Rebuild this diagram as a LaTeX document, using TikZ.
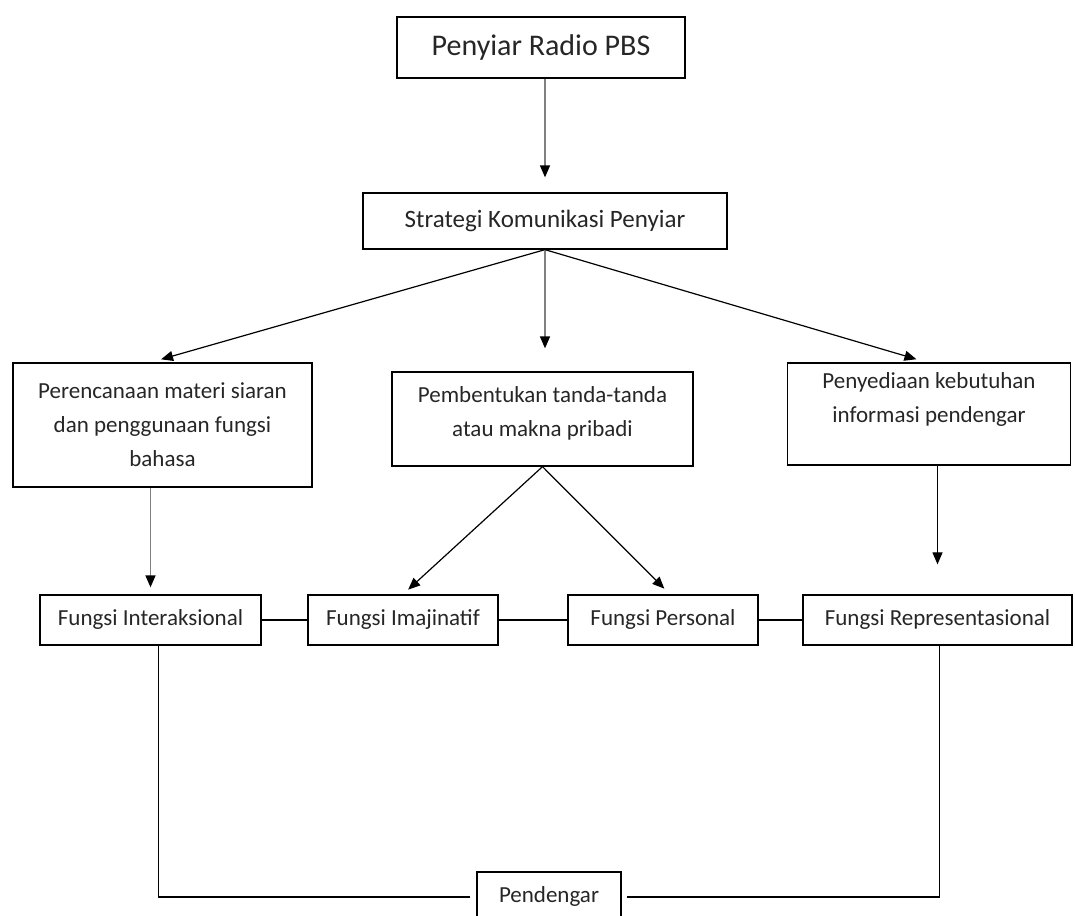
\documentclass[tikz,border=0pt]{standalone}
\usepackage{fontspec}
\setmainfont{Carlito}
\usetikzlibrary{arrows.meta}

\begin{document}
\begin{tikzpicture}[x=1pt, y=-1pt,
	box/.style={draw, line width=1.3pt, inner sep=0pt, align=center, text=black!85, font=\fontsize{23}{34}\selectfont},
	fungsi/.style={box, minimum height=50pt, text height=16pt, text depth=5pt},
	arr/.style={line width=1.2pt, -{Triangle[length=12pt,width=10pt,color=black]}},
	greyarr/.style={arr, line width=1.5pt, draw=black!50},
	link/.style={line width=1.2pt}]
		\useasboundingbox (0,0) rectangle (1075,915);
		\node [box, minimum width=288pt, minimum height=61pt, font=\fontsize{30}{36}\selectfont] at (541,47.5) (radio) {Penyiar Radio PBS};
		\node [box, minimum width=364pt, minimum height=56pt, font=\fontsize{25}{30}\selectfont] at (545,221) (strategi) {Strategi Komunikasi Penyiar};
		\node [box, minimum width=299pt, minimum height=124pt] at (162.5,425) (rencana) {Perencanaan materi siaran\\dan penggunaan fungsi\\bahasa};
		\node [box, minimum width=301pt, minimum height=94pt, text depth=14pt] at (542.5,419) (tanda) {Pembentukan tanda-tanda\\atau makna pribadi};
		\node [box, minimum width=283pt, minimum height=102pt, text depth=33pt] at (929,414) (sedia) {Penyediaan kebutuhan\\informasi pendengar};
		\node [fungsi, minimum width=221pt] at (150.5,620) (inter) {Fungsi Interaksional};
		\node [fungsi, minimum width=190pt] at (403,620) (imaj) {Fungsi Imajinatif};
		\node [fungsi, minimum width=190pt] at (663,620) (pers) {Fungsi Personal};
		\node [fungsi, minimum width=269pt] at (937.5,620) (repr) {Fungsi Representasional};
		\node [fungsi, minimum width=144pt] at (549,897) (dengar) {Pendengar};
		\draw [greyarr, shorten >=15pt] (strategi.north |- radio.south) -- (strategi.north);
		\draw [arr, shorten >=11pt] (strategi.south) -- ([xshift=-12pt]rencana.north);
		\draw [greyarr, shorten >=23pt] (strategi.south) -- (strategi.south |- tanda.north);
		\draw [arr, shorten >=11pt] (strategi.south) -- ([xshift=-2pt]sedia.north);
		\draw [greyarr, shorten >=7pt] (inter.north |- rencana.south) -- (inter.north);
		\draw [arr, shorten >=7pt] (tanda.south) -- (imaj.north);
		\draw [arr, shorten >=8pt] (tanda.south) -- ([xshift=7pt]pers.north);
		\draw [arr, shorten >=30pt] (repr.north |- sedia.south) -- (repr.north);
		\draw [link] (inter.east) -- (imaj.west);
		\draw [link] (imaj.east) -- (pers.west);
		\draw [link] (pers.east) -- (repr.west);
		\draw [link, shorten >=6pt] ([xshift=8pt]inter.south) |- (dengar.west);
		\draw [link, shorten >=5pt] ([xshift=2pt]repr.south) |- (dengar.east);
	\end{tikzpicture}
\end{document}
